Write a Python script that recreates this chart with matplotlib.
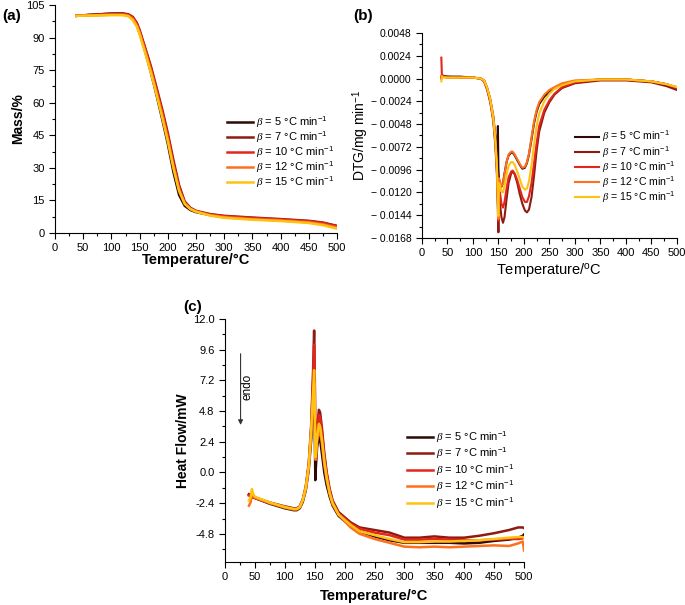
import matplotlib
matplotlib.use("Agg")
import matplotlib.pyplot as plt
from matplotlib.ticker import MultipleLocator, FuncFormatter

plt.rcParams['font.family'] = ['Liberation Sans', 'DejaVu Sans']
plt.rcParams['mathtext.fontset'] = 'custom'
plt.rcParams['mathtext.rm'] = 'Liberation Sans'
plt.rcParams['mathtext.it'] = 'Liberation Serif:italic'

# ---------------- data ----------------
rates = ["5", "7", "10", "12", "15"]
labels = [r"$\beta$ = %s °C min$^{-1}$" % r for r in rates]
colors = ["#2f0808", "#8e1a12", "#e3261b", "#ff6f1c", "#ffc20f"]

# (a) TGA
T_tga = [38, 60, 80, 100, 120, 130, 138, 145, 150, 155, 160, 170, 180, 190, 200,
         210, 220, 230, 240, 250, 275, 300, 350, 400, 450, 475, 500]
mass_5 = [100.0, 100.4, 100.7, 101.0, 101.0, 100.5, 99.0, 95.8, 92.3, 88.0, 83.5, 74.0,
          63.5, 52.5, 41.0, 28.0, 17.5, 12.5, 10.6, 9.6, 8.3, 7.5, 6.7, 6.0, 5.2, 4.5, 3.0]
mass_7 = [100.0, 100.4, 100.7, 101.0, 101.1, 100.7, 99.5, 96.8, 93.5, 89.3, 85.2, 76.8,
          67.0, 57.0, 46.0, 33.5, 22.0, 14.5, 11.6, 10.2, 8.7, 7.9, 7.1, 6.4, 5.6, 4.8, 3.3]
mass_10 = [100.0, 100.3, 100.5, 100.8, 100.8, 100.4, 99.2, 96.4, 93.0, 88.8, 84.6, 76.0,
           66.0, 56.0, 44.8, 32.0, 21.0, 14.0, 11.3, 10.0, 8.5, 7.7, 6.9, 6.2, 5.4, 4.6, 3.0]
mass_12 = [100.0, 100.2, 100.3, 100.5, 100.5, 100.1, 98.6, 95.6, 92.2, 87.8, 83.6, 74.8,
           64.8, 54.5, 43.3, 30.8, 20.0, 13.6, 11.1, 9.9, 8.2, 7.3, 6.4, 5.8, 4.9, 4.0, 2.5]
mass_15 = [100.0, 100.1, 100.2, 100.3, 100.3, 99.8, 98.0, 95.0, 91.5, 87.0, 82.8, 73.8,
           63.8, 53.3, 42.2, 29.8, 19.3, 13.4, 11.0, 9.8, 8.0, 7.0, 6.1, 5.5, 4.6, 3.6, 2.0]
mass = [mass_5, mass_7, mass_10, mass_12, mass_15]

# (b) DTG
T_dtg = [38, 39, 41, 50, 75, 100, 115, 122, 128, 134, 140, 144, 147, 149, 150, 151, 153,
         156, 159, 162, 166, 170, 175, 178, 182, 187, 192, 197, 202, 206, 210, 215, 220,
         225, 230, 240, 250, 260, 275, 300, 350, 400, 450, 480, 500]
dtg_5 = [0.0, 0.0003, 0.0002, 0.0002, 0.0002, 0.0001, 0.0, -0.0002, -0.0010, -0.0022, -0.0040,
         -0.0062, -0.0082, -0.0050, -0.0095, -0.0105, -0.0112, -0.0114, -0.0110, -0.0100, -0.0088,
         -0.0081, -0.0078, -0.0078, -0.0081, -0.0086, -0.0091, -0.0095, -0.0094, -0.0089, -0.0080,
         -0.0064, -0.0047, -0.0035, -0.0027, -0.0019, -0.0014, -0.0010, -0.0006, -0.0003, -0.0001,
         -0.0001, -0.0003, -0.0006, -0.0010]
dtg_7 = [0.0001, 0.0004, 0.0003, 0.0002, 0.0001, 0.0001, 0.0, -0.0003, -0.0012, -0.0025, -0.0045,
         -0.0070, -0.0100, -0.0140, -0.0162, -0.0125, -0.0132, -0.0146, -0.0152, -0.0146, -0.0127,
         -0.0110, -0.0100, -0.0098, -0.0101, -0.0110, -0.0122, -0.0132, -0.0139, -0.0141, -0.0138,
         -0.0125, -0.0102, -0.0076, -0.0056, -0.0036, -0.0025, -0.0017, -0.0010, -0.0005, -0.0002,
         -0.0002, -0.0004, -0.0008, -0.0012]
dtg_10 = [0.0022, 0.0005, 0.0002, 0.0001, 0.0001, 0.0001, 0.0, -0.0003, -0.0011, -0.0023, -0.0043,
          -0.0067, -0.0095, -0.0130, -0.0150, -0.0118, -0.0120, -0.0132, -0.0136, -0.0130, -0.0116,
          -0.0104, -0.0098, -0.0097, -0.0100, -0.0107, -0.0116, -0.0125, -0.0130, -0.0130, -0.0124,
          -0.0110, -0.0089, -0.0068, -0.0050, -0.0033, -0.0023, -0.0016, -0.0009, -0.0004, -0.0001,
          -0.0001, -0.0003, -0.0006, -0.0010]
dtg_12 = [0.0, 0.0003, 0.0002, 0.0001, 0.0001, 0.0001, 0.0, -0.0002, -0.0010, -0.0022, -0.0040,
          -0.0062, -0.0090, -0.0125, -0.0148, -0.0105, -0.0108, -0.0113, -0.0111, -0.0101, -0.0088,
          -0.0080, -0.0077, -0.0077, -0.0080, -0.0085, -0.0090, -0.0094, -0.0093, -0.0088, -0.0079,
          -0.0062, -0.0045, -0.0033, -0.0025, -0.0017, -0.0012, -0.0009, -0.0005, -0.0002, -0.0001,
          -0.0001, -0.0003, -0.0006, -0.0009]
dtg_15 = [-0.0003, 0.0002, 0.0001, 0.0001, 0.0001, 0.0001, 0.0, -0.0002, -0.0010, -0.0022, -0.0042,
          -0.0065, -0.0092, -0.0128, -0.0145, -0.0110, -0.0112, -0.0119, -0.0120, -0.0113, -0.0101,
          -0.0092, -0.0088, -0.0088, -0.0091, -0.0098, -0.0106, -0.0114, -0.0117, -0.0116, -0.0108,
          -0.0091, -0.0069, -0.0050, -0.0037, -0.0024, -0.0016, -0.0011, -0.0007, -0.0003, -0.0001,
          -0.0001, -0.0003, -0.0006, -0.0009]
dtg = [dtg_5, dtg_7, dtg_10, dtg_12, dtg_15]

# (c) DSC
T_dsc = [40, 43, 45, 47, 50, 75, 100, 115, 120, 125, 130, 135, 140, 144, 147, 149, 150,
         151, 152, 154, 157, 159, 162, 166, 170, 175, 180, 190, 200, 210, 225, 250, 275,
         300, 325, 350, 375, 400, 425, 450, 475, 490, 498, 500]
hf_5 = [-1.75, -1.85, -1.9, -1.95, -2.0, -2.45, -2.8, -2.95, -2.95, -2.8, -2.3, -1.4, 0.2,
        2.5, 5.0, 7.0, 4.0, -0.6, 0.5, 2.0, 2.8, 2.6, 1.5, 0.0, -1.0, -1.9, -2.6, -3.4, -3.8,
        -4.2, -4.6, -5.0, -5.3, -5.5, -5.5, -5.5, -5.5, -5.55, -5.5, -5.35, -5.25, -5.1, -4.95, -4.85]
hf_7 = [-1.7, -1.8, -1.85, -1.9, -1.95, -2.35, -2.65, -2.8, -2.8, -2.65, -2.1, -1.1, 0.7,
        3.6, 7.5, 11.1, 8.0, 2.0, 1.5, 3.5, 4.9, 4.7, 3.5, 1.5, 0.0, -1.3, -2.2, -3.1, -3.5,
        -3.9, -4.3, -4.5, -4.7, -5.1, -5.1, -5.0, -5.1, -5.1, -4.95, -4.75, -4.5, -4.3, -4.3, -4.35]
hf_10 = [-1.8, -1.85, -1.9, -1.95, -2.0, -2.4, -2.7, -2.85, -2.85, -2.7, -2.15, -1.2, 0.6,
         3.3, 7.0, 10.0, 7.5, 1.8, 1.3, 3.2, 4.5, 4.3, 3.2, 1.3, -0.1, -1.4, -2.3, -3.2, -3.6,
         -4.0, -4.4, -4.7, -4.9, -5.25, -5.25, -5.2, -5.25, -5.3, -5.3, -5.25, -5.2, -5.2, -5.15, -5.1]
hf_12 = [-2.6, -2.3, -1.6, -1.8, -1.95, -2.4, -2.75, -2.9, -2.9, -2.75, -2.2, -1.3, 0.4,
         3.0, 5.5, 7.0, 5.0, 1.0, 1.0, 2.4, 3.3, 3.2, 2.3, 0.6, -0.6, -1.7, -2.5, -3.3, -3.8,
         -4.3, -4.8, -5.2, -5.5, -5.8, -5.85, -5.8, -5.85, -5.8, -5.75, -5.7, -5.75, -5.55, -5.4, -6.1]
hf_15 = [-2.2, -1.9, -1.3, -1.7, -1.9, -2.35, -2.7, -2.85, -2.85, -2.7, -2.15, -1.2, 0.5,
         3.2, 6.0, 8.0, 5.5, 1.2, 1.5, 2.8, 3.8, 3.6, 2.6, 0.9, -0.4, -1.6, -2.4, -3.3, -3.7,
         -4.1, -4.6, -4.9, -5.2, -5.45, -5.45, -5.4, -5.4, -5.35, -5.3, -5.2, -5.1, -5.05, -5.05, -5.1]
hf = [hf_5, hf_7, hf_10, hf_12, hf_15]

# ---------------- figure ----------------
fig = plt.figure(figsize=(6.85, 6.05), dpi=100)
axA = fig.add_axes([0.0803, 0.6149, 0.4117, 0.3769])
axB = fig.add_axes([0.616, 0.6066, 0.372, 0.3389])
axC = fig.add_axes([0.3285, 0.0711, 0.4365, 0.4016])

TICK_FS = 8
for ax in (axA, axB, axC):
    ax.spines['top'].set_visible(False)
    ax.spines['right'].set_visible(False)
    ax.tick_params(which='major', direction='out', length=4, width=0.8, labelsize=TICK_FS)
    ax.tick_params(which='minor', direction='out', length=2, width=0.8)
    ax.set_xlim(0, 500)
    ax.xaxis.set_major_locator(MultipleLocator(50))
    ax.xaxis.set_minor_locator(MultipleLocator(25))

leg_kw = dict(loc='upper left', frameon=False, handlelength=2.3,
              handletextpad=0.3, borderpad=0, borderaxespad=0)

# (a)
for y, c, l in zip(mass, colors, labels):
    axA.plot(T_tga, y, color=c, lw=1.8, label=l)
axA.set_ylim(0, 105)
axA.yaxis.set_major_locator(MultipleLocator(15))
axA.yaxis.set_minor_locator(MultipleLocator(7.5))
axA.set_ylabel("Mass/%", fontsize=10, fontweight='bold', labelpad=1)
axA.set_xlabel("Temperature/°C", fontsize=10.5, fontweight='bold', labelpad=0)
axA.legend(bbox_to_anchor=(0.61, 0.52), labelspacing=0.0, fontsize=8, **leg_kw)

# (b)
for y, c, l in zip(dtg, colors, labels):
    axB.plot(T_dtg, y, color=c, lw=1.5, label=l)
axB.set_ylim(-0.0168, 0.0048)
axB.yaxis.set_major_locator(MultipleLocator(0.0024))
axB.yaxis.set_minor_locator(MultipleLocator(0.0012))
axB.yaxis.set_major_formatter(FuncFormatter(
    lambda v, p: ("\u2212 %.4f" % abs(v)) if v < -1e-9 else "%.4f" % abs(v)))
axB.tick_params(axis='y', labelsize=7.5)
axB.set_ylabel("DTG/mg min$^{-1}$", fontsize=10, labelpad=0)
axB.set_xlabel("Temperature/$^{\\mathrm{o}}$C", fontsize=10.5, labelpad=2)
axB.legend(bbox_to_anchor=(0.60, 0.53), labelspacing=0.0, fontsize=7.6, **leg_kw)

# (c)
for y, c, l in zip(hf, colors, labels):
    axC.plot(T_dsc, y, color=c, lw=1.8, label=l)
axC.set_ylim(-7.0, 12.0)
axC.yaxis.set_major_locator(MultipleLocator(2.4))
axC.yaxis.set_minor_locator(MultipleLocator(1.2))
axC.yaxis.set_major_formatter(FuncFormatter(lambda v, p: "%.1f" % v))
axC.set_ylabel("Heat Flow/mW", fontsize=10, fontweight='bold', labelpad=2)
axC.set_xlabel("Temperature/°C", fontsize=10.5, fontweight='bold', labelpad=5)
axC.legend(bbox_to_anchor=(0.61, 0.545), labelspacing=0.13, fontsize=8, **leg_kw)
axC.annotate("", xy=(26, 3.5), xytext=(26, 9.5),
             arrowprops=dict(arrowstyle='-|>', color='#333333', lw=0.8, mutation_scale=7))
axC.text(38, 6.7, "endo", rotation=90, ha='center', va='center', fontsize=8.5)

# panel labels
fig.text(0.003, 0.985, "(a)", fontsize=11, fontweight='bold', va='top', ha='left')
fig.text(0.515, 0.985, "(b)", fontsize=11, fontweight='bold', va='top', ha='left')
fig.text(0.267, 0.504, "(c)", fontsize=11, fontweight='bold', va='top', ha='left')

fig.savefig("out.png", dpi=100)
